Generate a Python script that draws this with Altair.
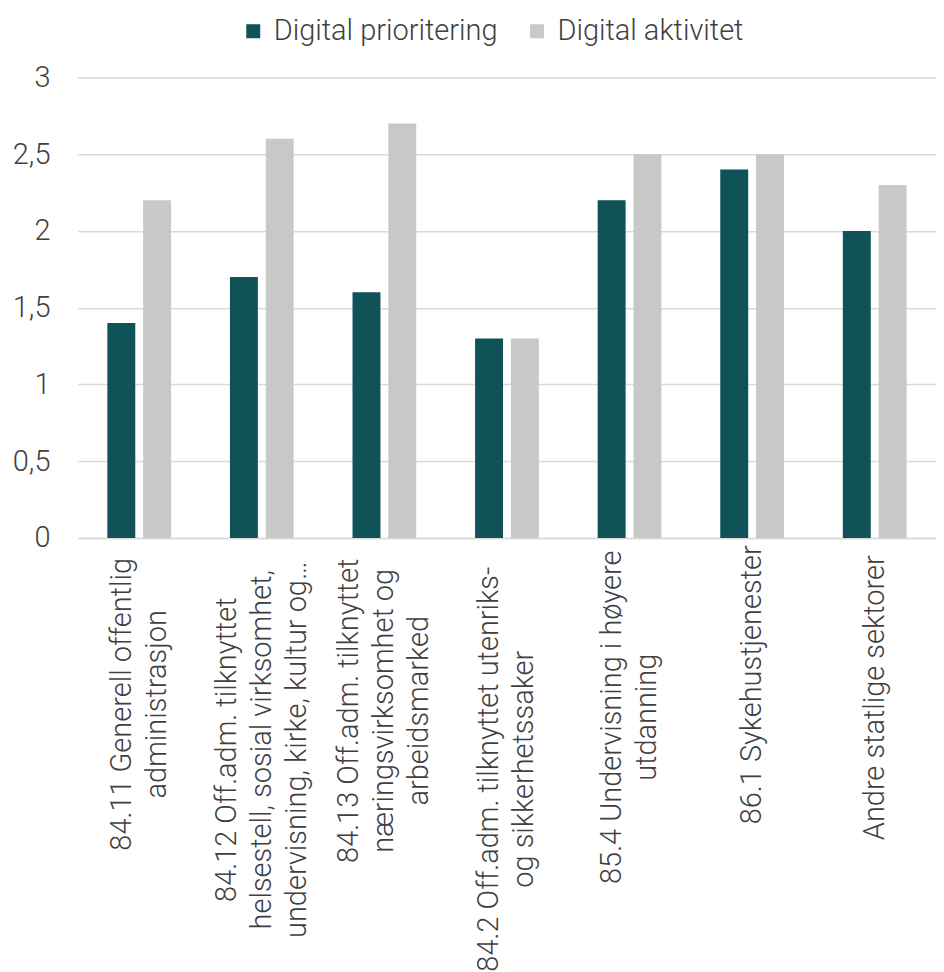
import altair as alt
import pandas as pd

categories = [
    "84.11 Generell offentlig\nadministrasjon",
    "84.12 Off.adm. tilknyttet\nhelsestell, sosial virksomhet,\nundervisning, kirke, kultur og…",
    "84.13 Off.adm. tilknyttet\nnæringsvirksomhet og\narbeidsmarked",
    "84.2 Off.adm. tilknyttet utenriks-\nog sikkerhetssaker",
    "85.4 Undervisning i høyere\nutdanning",
    "86.1 Sykehustjenester",
    "Andre statlige sektorer",
]
series = ["Digital prioritering", "Digital aktivitet"]
prioritering = [1.4, 1.7, 1.6, 1.3, 2.2, 2.4, 2.0]
aktivitet = [2.2, 2.6, 2.7, 1.3, 2.5, 2.5, 2.3]
y_ticks = [0, 0.5, 1, 1.5, 2, 2.5, 3]
colors = ["#0F5257", "#C8C9C7"]

rows = []
for c, p, a in zip(categories, prioritering, aktivitet):
    rows.append({"Kategori": c, "Serie": series[0], "Verdi": p})
    rows.append({"Kategori": c, "Serie": series[1], "Verdi": a})
df = pd.DataFrame(rows)

FONT = "Roboto"
FS = 29
LH = 35

lines = "split(datum.value, '\\n')"
maxlen = f"max(length({lines}[0]), length({lines}[1] || ''), length({lines}[2] || ''))"
pad_expr = f"10 + 6.5 * {maxlen}"
off_expr = f"-(length({lines}) - 1) * {LH / 2}"

chart = (
    alt.Chart(df)
    .mark_bar()
    .encode(
        x=alt.X(
            "Kategori:N",
            sort=categories,
            title=None,
            scale=alt.Scale(paddingInner=0.48, paddingOuter=0.24),
            axis=alt.Axis(
                labelAngle=-90,
                labelAlign="center",
                labelBaseline="middle",
                labelExpr="split(datum.label, '\\n')",
                labelLineHeight=LH,
                labelLimit=0,
                labelPadding={"expr": pad_expr},
                labelOffset={"expr": off_expr},
                labelFontSize=FS,
                labelFont=FONT,
                labelFontWeight=300,
                labelColor="#404040",
                ticks=False,
                domainColor="#D9D9D9",
                domainWidth=1.5,
                grid=False,
            ),
        ),
        xOffset=alt.XOffset(
            "Serie:N",
            sort=series,
            scale=alt.Scale(paddingInner=0.22, paddingOuter=0),
        ),
        y=alt.Y(
            "Verdi:Q",
            title=None,
            scale=alt.Scale(domain=[0, 3]),
            axis=alt.Axis(
                values=y_ticks,
                labelExpr="replace(toString(datum.value), '.', ',')",
                labelFontSize=FS,
                labelFont=FONT,
                labelFontWeight=300,
                labelColor="#404040",
                labelPadding=28,
                ticks=False,
                domain=False,
                gridColor="#D9D9D9",
                gridWidth=1.5,
            ),
        ),
        color=alt.Color(
            "Serie:N",
            sort=series,
            scale=alt.Scale(domain=series, range=colors),
            legend=alt.Legend(
                title=None,
                orient="none",
                direction="horizontal",
                legendX=161,
                legendY=-61,
                symbolType="square",
                symbolSize=196,
                symbolStrokeWidth=0,
                labelFontSize=FS,
                labelFont=FONT,
                labelFontWeight=300,
                labelColor="#404040",
                labelOffset=6,
                columnPadding=24,
                labelLimit=0,
            ),
        ),
    )
    .properties(width=859, height=461, padding={"left": 4, "top": 8, "right": 0, "bottom": 0})
    .configure_view(stroke=None)
)

chart.save("out.html", embed_options={"renderer": "svg", "actions": False})
